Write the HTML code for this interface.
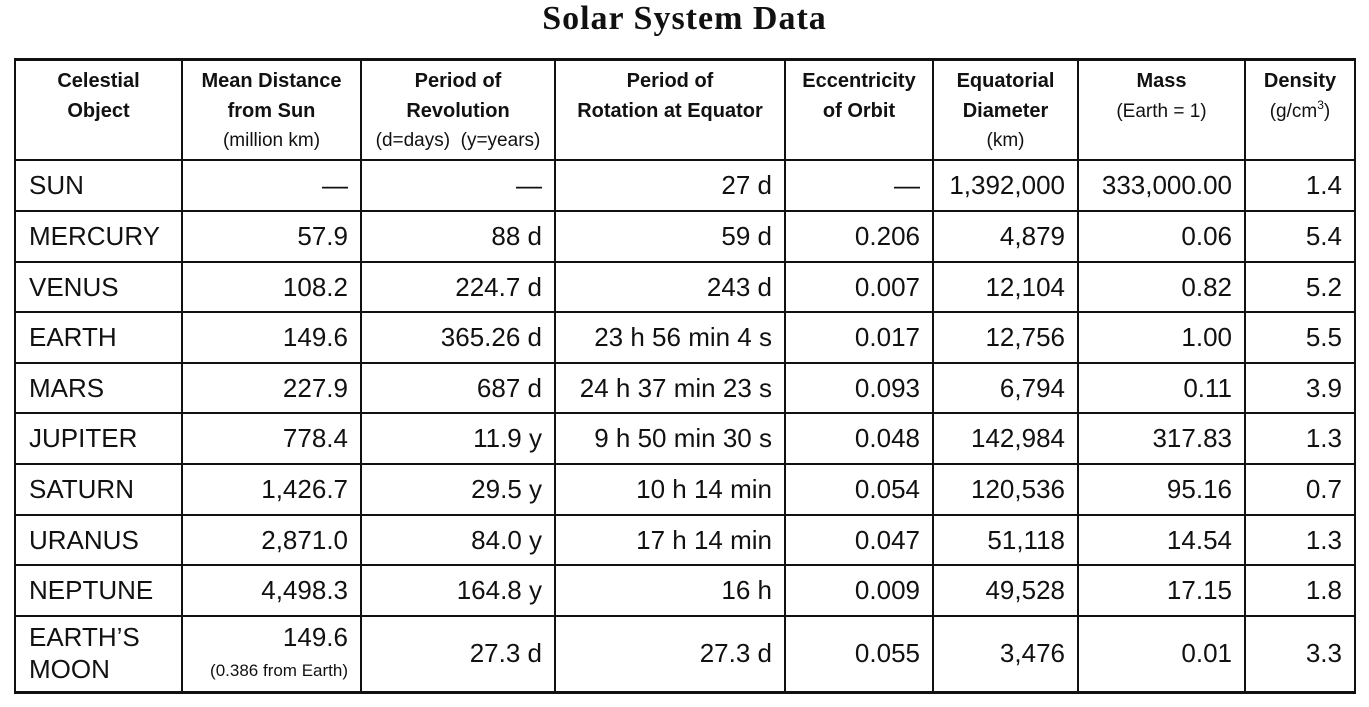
<!DOCTYPE html>
<html><head><meta charset="utf-8"><style>
body{margin:0;width:1369px;height:707px;background:#fff;position:relative;overflow:hidden;font-family:"Liberation Sans",Arial,sans-serif;color:#111}
.t{position:absolute;left:0;width:1369px;top:0px;text-align:center;font-family:"Liberation Serif",serif;font-weight:bold;font-size:34px;letter-spacing:1px}
.h{position:absolute;background:#111;height:2px;left:14px;width:1342px}
.v{position:absolute;background:#111;width:2px;top:59px;height:635px}
.c{position:absolute;font-size:26px;line-height:30px;white-space:nowrap}
.r{text-align:right}
.hd{position:absolute;text-align:center;font-size:20px;line-height:29.5px;white-space:nowrap}
.hd b{font-weight:bold}
.s{font-size:19px}
sup{font-size:12px;line-height:0;vertical-align:0;position:relative;top:-8px}
</style></head><body>
<div class="t">Solar System Data</div>
<div class="h" style="top:58px;height:3px"></div>
<div class="h" style="top:159px"></div>
<div class="h" style="top:210px"></div>
<div class="h" style="top:261px"></div>
<div class="h" style="top:311px"></div>
<div class="h" style="top:362px"></div>
<div class="h" style="top:412px"></div>
<div class="h" style="top:463px"></div>
<div class="h" style="top:514px"></div>
<div class="h" style="top:564px"></div>
<div class="h" style="top:615px"></div>
<div class="h" style="top:691px;height:3px"></div>
<div class="v" style="left:14px"></div>
<div class="v" style="left:181px"></div>
<div class="v" style="left:360px"></div>
<div class="v" style="left:554px"></div>
<div class="v" style="left:784px"></div>
<div class="v" style="left:932px"></div>
<div class="v" style="left:1077px"></div>
<div class="v" style="left:1244px"></div>
<div class="v" style="left:1354px"></div>

<div class="hd" style="left:16px;width:165px;top:67px"><b>Celestial<br>Object</b></div>
<div class="hd" style="left:183px;width:177px;top:67px"><b>Mean Distance<br>from Sun</b><br><span class="s">(million km)</span></div>
<div class="hd" style="left:362px;width:192px;top:67px"><b>Period of<br>Revolution</b><br><span class="s">(d=days)&nbsp; (y=years)</span></div>
<div class="hd" style="left:556px;width:228px;top:67px"><b>Period of<br>Rotation at Equator</b></div>
<div class="hd" style="left:786px;width:146px;top:67px"><b>Eccentricity<br>of Orbit</b></div>
<div class="hd" style="left:934px;width:143px;top:67px"><b>Equatorial<br>Diameter</b><br><span class="s">(km)</span></div>
<div class="hd" style="left:1079px;width:165px;top:67px"><b>Mass</b><br><span class="s">(Earth = 1)</span></div>
<div class="hd" style="left:1246px;width:108px;top:67px"><b>Density</b><br><span class="s">(g/cm<sup>3</sup>)</span></div>

<div id="rows"></div>
<script>
var rows=[
["SUN","—","—","27 d","—","1,392,000","333,000.00","1.4"],
["MERCURY","57.9","88 d","59 d","0.206","4,879","0.06","5.4"],
["VENUS","108.2","224.7 d","243 d","0.007","12,104","0.82","5.2"],
["EARTH","149.6","365.26 d","23 h 56 min 4 s","0.017","12,756","1.00","5.5"],
["MARS","227.9","687 d","24 h 37 min 23 s","0.093","6,794","0.11","3.9"],
["JUPITER","778.4","11.9 y","9 h 50 min 30 s","0.048","142,984","317.83","1.3"],
["SATURN","1,426.7","29.5 y","10 h 14 min","0.054","120,536","95.16","0.7"],
["URANUS","2,871.0","84.0 y","17 h 14 min","0.047","51,118","14.54","1.3"],
["NEPTUNE","4,498.3","164.8 y","16 h","0.009","49,528","17.15","1.8"]];
var tops=[160,211,262,312,363,413,464,515,565];
var rights=[348,542,772,920,1065,1232,1342];
var h="";
rows.forEach(function(r,i){var y=tops[i]+10;
h+='<div class="c" style="left:29px;top:'+y+'px">'+r[0]+'</div>';
for(var j=1;j<8;j++)h+='<div class="c r" style="right:'+(1369-rights[j-1])+'px;top:'+y+'px">'+r[j]+'</div>';});
var y=638;
h+='<div class="c" style="left:29px;top:622px">EARTH’S</div><div class="c" style="left:29px;top:654px">MOON</div>';
h+='<div class="c r" style="right:'+(1369-348)+'px;top:622px">149.6</div>';
h+='<div class="c r" style="right:'+(1369-348)+'px;top:656px;font-size:17px">(0.386 from Earth)</div>';
var m=["27.3 d","27.3 d","0.055","3,476","0.01","3.3"];
for(var j=0;j<6;j++)h+='<div class="c r" style="right:'+(1369-rights[j+1])+'px;top:'+y+'px">'+m[j]+'</div>';
document.getElementById("rows").innerHTML=h;
</script>
</body></html>
